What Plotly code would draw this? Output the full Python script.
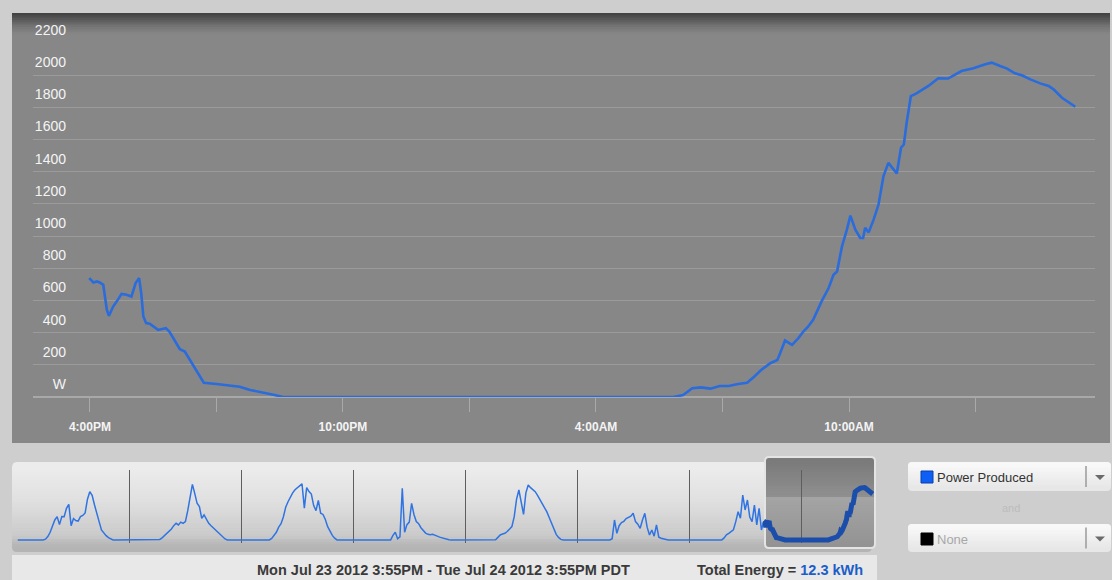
import plotly.graph_objects as go

W, H = 1112, 580

# ---------------- data ----------------
# Power produced (W), Jul 23 2012 3:55PM -> Jul 24 2012 3:55PM
main_times = [
    "2012-07-23 15:59", "2012-07-23 16:05", "2012-07-23 16:10", "2012-07-23 16:14", "2012-07-23 16:19",
    "2012-07-23 16:24", "2012-07-23 16:27", "2012-07-23 16:33", "2012-07-23 16:38", "2012-07-23 16:45",
    "2012-07-23 16:52", "2012-07-23 16:59", "2012-07-23 17:05", "2012-07-23 17:10", "2012-07-23 17:13",
    "2012-07-23 17:16", "2012-07-23 17:20", "2012-07-23 17:25", "2012-07-23 17:37", "2012-07-23 17:48",
    "2012-07-23 17:53", "2012-07-23 18:01", "2012-07-23 18:08", "2012-07-23 18:15", "2012-07-23 18:25",
    "2012-07-23 18:37", "2012-07-23 18:42", "2012-07-23 19:00", "2012-07-23 19:15", "2012-07-23 19:33",
    "2012-07-23 19:48", "2012-07-23 20:02", "2012-07-23 20:21", "2012-07-23 20:35",
    "2012-07-24 05:50", "2012-07-24 06:04", "2012-07-24 06:17", "2012-07-24 06:29", "2012-07-24 06:43",
    "2012-07-24 06:56", "2012-07-24 07:09", "2012-07-24 07:22", "2012-07-24 07:35", "2012-07-24 07:45",
    "2012-07-24 07:55", "2012-07-24 08:08", "2012-07-24 08:18", "2012-07-24 08:22", "2012-07-24 08:29",
    "2012-07-24 08:39", "2012-07-24 08:48", "2012-07-24 08:55", "2012-07-24 09:02", "2012-07-24 09:09",
    "2012-07-24 09:21", "2012-07-24 09:31", "2012-07-24 09:38", "2012-07-24 09:43", "2012-07-24 09:50",
    "2012-07-24 09:57", "2012-07-24 10:02", "2012-07-24 10:09", "2012-07-24 10:16", "2012-07-24 10:20",
    "2012-07-24 10:23", "2012-07-24 10:28", "2012-07-24 10:35", "2012-07-24 10:42", "2012-07-24 10:49",
    "2012-07-24 10:56", "2012-07-24 11:02", "2012-07-24 11:08", "2012-07-24 11:14", "2012-07-24 11:18",
    "2012-07-24 11:22", "2012-07-24 11:28", "2012-07-24 11:36", "2012-07-24 11:53", "2012-07-24 12:07",
    "2012-07-24 12:21", "2012-07-24 12:40", "2012-07-24 12:57", "2012-07-24 13:14", "2012-07-24 13:23",
    "2012-07-24 13:35", "2012-07-24 13:45", "2012-07-24 13:56", "2012-07-24 14:06", "2012-07-24 14:18",
    "2012-07-24 14:32", "2012-07-24 14:44", "2012-07-24 14:51", "2012-07-24 15:03", "2012-07-24 15:22",
]
main_watts = [
    739, 712, 718, 712, 697,
    542, 504, 562, 593, 641,
    635, 624, 708, 739, 646,
    500, 459, 455, 417, 428,
    407, 344, 297, 282, 210,
    116, 89, 81, 75, 64,
    44, 33, 14, 0,
    0, 12, 54, 60, 52,
    68, 68, 81, 89, 126,
    168, 210, 230, 272, 351,
    324, 366, 407, 438, 480,
    594, 677, 760, 780, 936,
    1040, 1127, 1040, 988, 988,
    1051, 1023, 1102, 1196, 1372,
    1455, 1424, 1389, 1549, 1569,
    1704, 1870, 1887, 1933, 1981,
    1979, 2026, 2043, 2068, 2078,
    2057, 2041, 2012, 1999, 1974,
    1949, 1933, 1912, 1860, 1804,
]

# Overview strip: half-hourly power (W) per day
slot_times = [
    "05:00", "05:30", "06:00", "06:30", "07:00", "07:30", "08:00", "08:30", "09:00", "09:30",
    "10:00", "10:30", "11:00", "11:30", "12:00", "12:30", "13:00", "13:30", "14:00", "14:30",
    "15:00", "15:30", "16:00", "16:30", "17:00", "17:30", "18:00", "18:30", "19:00", "19:30",
    "20:00", "20:30", "21:00",
]
mini_days = ["2012-07-17", "2012-07-18", "2012-07-19", "2012-07-20", "2012-07-21", "2012-07-22", "2012-07-23"]
jul17_w = [0, 0, 30, 130, 300, 540, 784, 915, 600, 915, 910, 1242, 1398, 560, 840, 760, 740, 915, 960, 1060,
           1600, 1895, 1750, 1380, 1000, 720, 392, 261, 170, 90, 30, 0, 0]
jul18_w = [0, 0, 0, 20, 80, 160, 250, 330, 431, 560, 653, 588, 700, 650, 719, 1150, 1700, 2183, 1830, 1438,
           1307, 850, 980, 800, 653, 560, 470, 380, 290, 180, 100, 40, 0]
jul19_w = [0, 0, 0, 60, 170, 300, 500, 640, 900, 1280, 1500, 1699, 1850, 1970, 2040, 2100, 2200, 1250, 2050, 1900,
           1800, 1350, 1150, 1550, 1050, 1000, 800, 520, 330, 180, 70, 0, 0]
jul20_w = [0, 0, 0, 0, 0, 0, 0, 180, 300, 50, 120, 2026, 300, 600, 700, 1438, 1000, 720, 640, 480,
           350, 270, 220, 200, 222, 200, 150, 110, 80, 50, 30, 10, 0]
jul21_w = [0, 0, 0, 10, 100, 196, 230, 261, 330, 420, 523, 915, 1600, 1960, 1400, 1000, 1850, 2157, 2052, 1980,
           1895, 1750, 1590, 1450, 1300, 1100, 880, 650, 430, 220, 100, 20, 0]
jul22_w = [0, 0, 0, 0, 0, 50, 784, 261, 560, 680, 730, 840, 880, 930, 1046, 720, 620, 457, 784, 1046,
           500, 196, 392, 150, 588, 110, 65, 40, 10, 0, 0, 0, 0]
jul23_w = [0, 0, 0, 0, 0, 80, 200, 261, 330, 400, 719, 1111, 850, 1764, 1176, 1568, 900, 719, 1372, 588,
           1242, 392, 740]

y_tick_vals = [0, 200, 400, 600, 800, 1000, 1200, 1400, 1600, 1800, 2000, 2200]
y_tick_text = ["W", "200", "400", "600", "800", "1000", "1200", "1400", "1600", "1800", "2000", "2200"]
x_tick_vals = ["2012-07-23 16:00", "2012-07-23 19:00", "2012-07-23 22:00", "2012-07-24 01:00",
               "2012-07-24 04:00", "2012-07-24 07:00", "2012-07-24 10:00", "2012-07-24 13:00"]
x_tick_text = ["4:00PM", "", "10:00PM", "", "4:00AM", "", "10:00AM", ""]
day_separators = ["2012-07-18", "2012-07-19", "2012-07-20", "2012-07-21", "2012-07-22", "2012-07-23", "2012-07-24"]

date_range_text = "Mon Jul 23 2012 3:55PM - Tue Jul 24 2012 3:55PM PDT"
total_energy_kwh = 12.3
series_names = ["Power Produced", "None"]

# ---------------- build overview series ----------------
mini_x = ["2012-07-17 00:00"]
mini_y = [0]
for day, vals in zip(mini_days, [jul17_w, jul18_w, jul19_w, jul20_w, jul21_w, jul22_w, jul23_w]):
    for t, v in zip(slot_times, vals):
        mini_x.append(f"{day} {t}")
        mini_y.append(v)


# ---------------- helpers (pixel -> paper) ----------------
def X(p):
    return p / W


def Y(p):
    return 1 - p / H


def hex_rgb(h):
    h = h.lstrip("#")
    return tuple(int(h[i:i + 2], 16) for i in (0, 2, 4))


def mix(c1, c2, t):
    a, b = hex_rgb(c1), hex_rgb(c2)
    return "rgb(%d,%d,%d)" % tuple(round(a[i] + (b[i] - a[i]) * t) for i in range(3))


def color_at(stops, f):
    for (f0, c0), (f1, c1) in zip(stops[:-1], stops[1:]):
        if f0 <= f <= f1:
            return mix(c0, c1, 0 if f1 == f0 else (f - f0) / (f1 - f0))
    return stops[-1][1]


def rect(x0, y0, x1, y1, color, layer="below"):
    return dict(type="rect", xref="paper", yref="paper", x0=X(x0), x1=X(x1), y0=Y(y1), y1=Y(y0),
                fillcolor=color, line=dict(width=0), layer=layer)


def rpath(x0, y0, x1, y1, r):
    pts = [
        ("M", (x0 + r, y0)), ("L", (x1 - r, y0)), ("Q", (x1, y0), (x1, y0 + r)),
        ("L", (x1, y1 - r)), ("Q", (x1, y1), (x1 - r, y1)), ("L", (x0 + r, y1)),
        ("Q", (x0, y1), (x0, y1 - r)), ("L", (x0, y0 + r)), ("Q", (x0, y0), (x0 + r, y0)),
    ]
    s = ""
    for item in pts:
        s += item[0] + " " + " ".join("%.6f,%.6f" % (X(p[0]), Y(p[1])) for p in item[1:]) + " "
    return s + "Z"


def rounded(x0, y0, x1, y1, r, fill, line_color=None, line_width=0, layer="below"):
    return dict(type="path", xref="paper", yref="paper", path=rpath(x0, y0, x1, y1, r),
                fillcolor=fill, line=dict(color=line_color or fill, width=line_width), layer=layer)


def gradient(x0, y0, x1, y1, stops, n, layer="below"):
    out = []
    h = (y1 - y0) / n
    for i in range(n):
        f = (i + 0.5) / n
        out.append(rect(x0, y0 + i * h, x1, y0 + (i + 1) * h + 0.6, color_at(stops, f), layer))
    return out


def rounded_gradient(x0, y0, x1, y1, r, stops, n, border=None, bw=0):
    out = [rounded(x0, y0, x1, y1, r, stops[-1][1]),
           rounded(x0, y0, x1, (y0 + y1) / 2, r, stops[0][1])]
    out += gradient(x0, y0 + r, x1, y1 - r, stops, n)
    if border:
        out.append(dict(type="path", xref="paper", yref="paper", path=rpath(x0, y0, x1, y1, r),
                        fillcolor="rgba(0,0,0,0)", line=dict(color=border, width=bw), layer="below"))
    return out


shapes = []
# main dark panel
shapes.append(rect(12, 13, 1110, 443, "#878787"))
shapes += gradient(12, 13, 1110, 34, [(0, "#404040"), (0.25, "#535353"), (0.6, "#727272"), (1, "#878787")], 12)
# overview panel
shapes += rounded_gradient(12, 462, 872, 552, 5,
                           [(0, "#ececec"), (0.4, "#e1e1e1"), (0.86, "#cacaca"), (0.93, "#bdbdbd"), (1, "#b4b4b4")], 30)
# selection window
shapes += rounded_gradient(765, 457, 875, 548, 4,
                           [(0, "#7a7a7a"), (0.42, "#8f8f8f"), (0.44, "#a4a4a4"), (1, "#939393")], 30,
                           border="#e4e4e4", bw=2)
# date / total strip
shapes.append(rect(12, 555, 877, 580, "#e8e8e8"))
# dropdowns
for (yy0, yy1) in [(462, 491), (524, 552)]:
    shapes += rounded_gradient(908, yy0, 1111, yy1, 4, [(0, "#f8f8f8"), (1, "#e7e7e7")], 10)
    mid = (yy0 + yy1) / 2
    shapes.append(dict(type="line", xref="paper", yref="paper", x0=X(1086), x1=X(1086),
                       y0=Y(mid + 10.5), y1=Y(mid - 10.5), line=dict(color="#9a9a9a", width=1.5), layer="above"))
    tri = "M %.6f,%.6f L %.6f,%.6f L %.6f,%.6f Z" % (X(1095), Y(mid - 1.5), X(1105), Y(mid - 1.5), X(1100), Y(mid + 3.5))
    shapes.append(dict(type="path", xref="paper", yref="paper", path=tri, fillcolor="#6a6a6a",
                       line=dict(width=0), layer="above"))
# legend colour squares
shapes.append(dict(type="rect", xref="paper", yref="paper", x0=X(921), x1=X(933), y0=Y(483), y1=Y(471),
                   fillcolor="#0d5ff5", line=dict(color="#0a3fa8", width=1), layer="above"))
shapes.append(dict(type="rect", xref="paper", yref="paper", x0=X(921), x1=X(933), y0=Y(545), y1=Y(533),
                   fillcolor="#000000", line=dict(color="#000000", width=1), layer="above"))

fig = go.Figure()
fig.add_trace(go.Scatter(x=main_times, y=main_watts, mode="lines", name=series_names[0],
                         line=dict(color="#2a6cdc", width=2.6), xaxis="x", yaxis="y"))
fig.add_trace(go.Scatter(x=mini_x, y=mini_y, mode="lines", line=dict(color="#2f74e2", width=1.5),
                         xaxis="x2", yaxis="y2"))
fig.add_trace(go.Scatter(x=main_times, y=main_watts, mode="lines", line=dict(color="#1b4dab", width=5),
                         xaxis="x2", yaxis="y2"))

font_family = "Liberation Sans, Arial, sans-serif"

annotations = [
    dict(x=X(443), y=Y(570), xref="paper", yref="paper", text=date_range_text, showarrow=False,
         xanchor="center", yanchor="middle",
         font=dict(family=font_family, size=14.5, color="#3a3a3a", weight="bold")),
    dict(x=X(695), y=Y(570), xref="paper", yref="paper",
         text=f"Total Energy = <span style='color:#1b5ec9'>{total_energy_kwh} kWh</span>", showarrow=False,
         xanchor="left", yanchor="middle",
         font=dict(family=font_family, size=14.5, color="#3a3a3a", weight="bold")),
    dict(x=X(935), y=Y(477), xref="paper", yref="paper", text=series_names[0], showarrow=False,
         xanchor="left", yanchor="middle", font=dict(family=font_family, size=13, color="#333333")),
    dict(x=X(1011), y=Y(508), xref="paper", yref="paper", text="and", showarrow=False,
         xanchor="center", yanchor="middle", font=dict(family=font_family, size=11, color="#bcbcbc")),
    dict(x=X(935), y=Y(539), xref="paper", yref="paper", text=series_names[1], showarrow=False,
         xanchor="left", yanchor="middle", font=dict(family=font_family, size=13, color="#a8a8a8")),
]

fig.update_layout(
    width=W, height=H,
    margin=dict(l=0, r=0, t=0, b=0, autoexpand=False),
    paper_bgcolor="#cecece",
    plot_bgcolor="rgba(0,0,0,0)",
    showlegend=False,
    hovermode=False,
    font=dict(family=font_family),
    shapes=shapes,
    annotations=annotations,
    xaxis=dict(
        domain=[X(33), X(1095)], anchor="y", type="date", automargin=False,
        range=["2012-07-23 14:39", "2012-07-24 15:50"],
        tickvals=x_tick_vals, ticktext=x_tick_text,
        ticks="outside", ticklen=14, tickwidth=1, tickcolor="#a9a9a9",
        ticklabelstandoff=5,
        tickfont=dict(family=font_family, size=12, color="#f4f4f4", weight="bold"),
        showgrid=False, zeroline=False, showline=False,
    ),
    yaxis=dict(
        domain=[Y(397), Y(43)], anchor="free", position=X(66), automargin=False,
        range=[0, 2200],
        tickvals=y_tick_vals, ticktext=y_tick_text,
        ticks="", ticklabelshift=-13,
        tickfont=dict(family=font_family, size=14, color="#f4f4f4"),
        showgrid=True, gridcolor="#9b9b9b", gridwidth=1,
        zeroline=True, zerolinecolor="#a8a8a8", zerolinewidth=1.6,
        showline=False,
    ),
    xaxis2=dict(
        domain=[X(17.5), X(875.3)], anchor="y2", type="date", automargin=False,
        range=["2012-07-17 00:00", "2012-07-24 15:55"],
        tickvals=day_separators, showticklabels=False, ticks="",
        showgrid=True, gridcolor="#5e5e5e", gridwidth=1,
        zeroline=False, showline=False,
    ),
    yaxis2=dict(
        domain=[Y(543), Y(470)], anchor="x2", automargin=False,
        range=[-120, 2745],
        showticklabels=False, ticks="", showgrid=False, zeroline=False, showline=False,
    ),
)

fig.write_html("out.html",
               config={"displayModeBar": False},
               post_script="document.body.style.margin='0';document.body.style.overflow='hidden';")
